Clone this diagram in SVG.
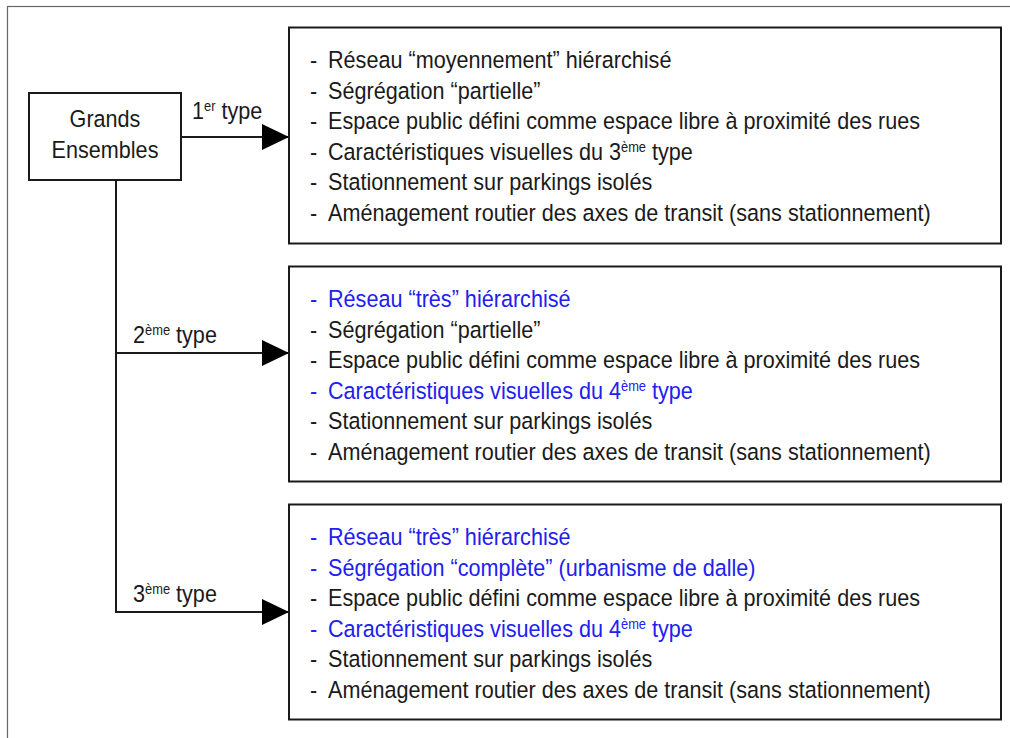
<svg xmlns="http://www.w3.org/2000/svg" width="1010" height="738" viewBox="0 0 1010 738">
<defs>
<style>
text{font-family:"Liberation Sans",Arial,sans-serif;font-size:23.5px;fill:#1a1a1a}
.b{fill:#2020f0}
.box{fill:#fff;stroke:#1a1a1a;stroke-width:2}
.ln{stroke:#1a1a1a;stroke-width:2;fill:none}
.sup{font-size:14px}
</style>
<marker id="ah" markerWidth="27" markerHeight="26" refX="27" refY="13" markerUnits="userSpaceOnUse" orient="auto">
<path d="M0,0 L27,13 L0,26 Z" fill="#000"/>
</marker>
</defs>
<rect x="0" y="0" width="1010" height="738" fill="#fff"/>
<rect x="7.5" y="6.5" width="1010" height="740" fill="none" stroke="#666" stroke-width="1.2"/>

<g id="connectors">
<line class="ln" x1="181" y1="137" x2="289" y2="137" marker-end="url(#ah)"/>
<polyline class="ln" points="116,180 116,612 289,612" marker-end="url(#ah)"/>
<line class="ln" x1="116" y1="353" x2="289" y2="353" marker-end="url(#ah)"/>
<g transform="translate(192,0) scale(0.92,1)"><text x="0" y="119">1<tspan class="sup" dy="-8">er</tspan><tspan dy="8"> type</tspan></text></g>
<g transform="translate(133,0) scale(0.92,1)"><text x="0" y="343">2<tspan class="sup" dy="-8">ème</tspan><tspan dy="8"> type</tspan></text></g>
<g transform="translate(133,0) scale(0.92,1)"><text x="0" y="602">3<tspan class="sup" dy="-8">ème</tspan><tspan dy="8"> type</tspan></text></g>
</g>

<g id="root">
<rect class="box" x="29" y="93" width="152" height="87"/>
<g transform="translate(105,0) scale(0.92,1)">
<text x="0" y="127" text-anchor="middle">Grands</text>
<text x="0" y="158" text-anchor="middle">Ensembles</text>
</g>
</g>

<g id="type1">
<rect class="box" x="289" y="27.5" width="712" height="216"/>
<g transform="translate(328,0) scale(0.92,1)">
<text x="-19.6" y="68">-<tspan x="0">Réseau “moyennement” hiérarchisé</tspan></text>
<text x="-19.6" y="98.6">-<tspan x="0">Ségrégation “partielle”</tspan></text>
<text x="-19.6" y="129.2">-<tspan x="0">Espace public défini comme espace libre à proximité des rues</tspan></text>
<text x="-19.6" y="159.8">-<tspan x="0">Caractéristiques visuelles du 3</tspan><tspan class="sup" dy="-8">ème</tspan><tspan dy="8"> type</tspan></text>
<text x="-19.6" y="190.4">-<tspan x="0">Stationnement sur parkings isolés</tspan></text>
<text x="-19.6" y="221">-<tspan x="0">Aménagement routier des axes de transit (sans stationnement)</tspan></text>
</g>
</g>

<g id="type2">
<rect class="box" x="289" y="266.5" width="712" height="215"/>
<g transform="translate(328,0) scale(0.92,1)">
<text class="b" x="-19.6" y="307">-<tspan x="0">Réseau “très” hiérarchisé</tspan></text>
<text x="-19.6" y="337.6">-<tspan x="0">Ségrégation “partielle”</tspan></text>
<text x="-19.6" y="368.2">-<tspan x="0">Espace public défini comme espace libre à proximité des rues</tspan></text>
<text class="b" x="-19.6" y="398.8">-<tspan x="0">Caractéristiques visuelles du 4</tspan><tspan class="sup" dy="-8">ème</tspan><tspan dy="8"> type</tspan></text>
<text x="-19.6" y="429.4">-<tspan x="0">Stationnement sur parkings isolés</tspan></text>
<text x="-19.6" y="460">-<tspan x="0">Aménagement routier des axes de transit (sans stationnement)</tspan></text>
</g>
</g>

<g id="type3">
<rect class="box" x="289" y="504.5" width="712" height="215"/>
<g transform="translate(328,0) scale(0.92,1)">
<text class="b" x="-19.6" y="545">-<tspan x="0">Réseau “très” hiérarchisé</tspan></text>
<text class="b" x="-19.6" y="575.6">-<tspan x="0">Ségrégation “complète” (urbanisme de dalle)</tspan></text>
<text x="-19.6" y="606.2">-<tspan x="0">Espace public défini comme espace libre à proximité des rues</tspan></text>
<text class="b" x="-19.6" y="636.8">-<tspan x="0">Caractéristiques visuelles du 4</tspan><tspan class="sup" dy="-8">ème</tspan><tspan dy="8"> type</tspan></text>
<text x="-19.6" y="667.4">-<tspan x="0">Stationnement sur parkings isolés</tspan></text>
<text x="-19.6" y="698">-<tspan x="0">Aménagement routier des axes de transit (sans stationnement)</tspan></text>
</g>
</g>
</svg>
